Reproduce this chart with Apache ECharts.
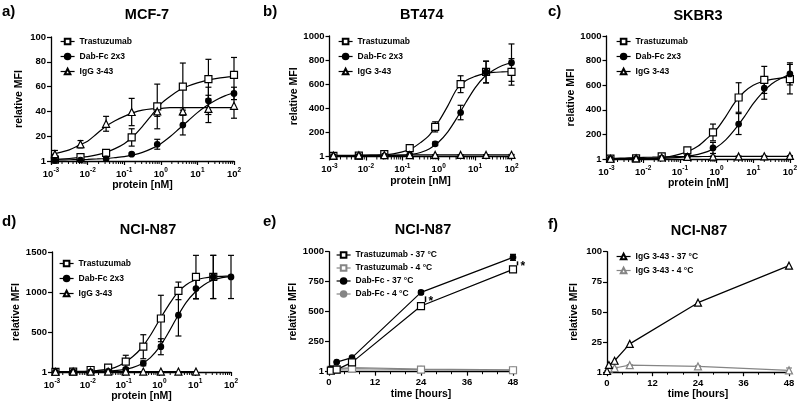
<!DOCTYPE html>
<html><head><meta charset="utf-8">
<script src="https://cdn.jsdelivr.net/npm/echarts@6/dist/echarts.min.js"></script>
<style>html,body{margin:0;padding:0;background:#fff}#c{width:800px;height:408px}</style>
</head><body><div id="c"></div><script>
// ---------- data ----------
// concentrations (nM) for panels a-c (5-fold dilutions) and d
const concABC = [0.00128, 0.0064, 0.032, 0.16, 0.8, 4, 20, 100];
const concD = [0.00125, 0.0039, 0.012, 0.037, 0.115, 0.355, 1.1, 3.4, 10.5, 32, 100];
const fitX = [0.001, 0.00178, 0.00316, 0.00562, 0.01, 0.0178, 0.0316, 0.0562, 0.1, 0.178, 0.316, 0.562,
              1, 1.78, 3.16, 5.62, 10, 17.8, 31.6, 56.2, 100];

// a) MCF-7
const aTras = [1.1, 3.2, 6.5, 19, 44, 60, 66, 69.5];
const aTrasErr = [0.5, 1, 1.5, 7, 18, 19, 16, 14];
const aDab = [0.5, 0.8, 1.8, 5.5, 13.5, 29, 48.5, 54.5];
const aDabErr = [0.3, 0.3, 0.5, 1, 4, 8, 11, 5];
const aIgg = [5.5, 13.5, 30, 39.5, 40, 40, 42, 44.5];
const aIggErr = [3, 3, 6, 11, 4, 3, 11, 10];
const aTrasFit = [1.2, 1.5, 2, 2.7, 3.5, 5, 7, 10, 14, 20, 28, 37, 46, 52, 57, 60.5, 63, 65, 66.5, 67.5, 68];
const aDabFit = [0.8, 0.9, 1, 1.1, 1.3, 1.6, 2, 2.7, 3.5, 5, 7, 10, 14, 19.5, 26, 32.5, 39, 44.5, 49, 52.5, 55];
const aIggFit = [5, 7, 9, 12.5, 16, 22, 28, 32.5, 36, 39, 41, 42, 42.5, 43, 43, 43, 43, 43, 43, 43, 43];

// b) BT474
const bTras = [5, 8, 19, 69, 246, 600, 702, 702];
const bTrasErr = [3, 3, 5, 12, 42, 70, 90, 110];
const bDab = [2, 3, 5, 14, 105, 365, 700, 779];
const bDabErr = [2, 2, 2, 4, 15, 60, 90, 155];
const bIgg = [8, 10, 12, 12, 13, 13, 13, 14];
const bIggErr = [3, 3, 3, 3, 3, 3, 3, 3];
const bTrasFit = [7, 7.5, 8, 9, 10, 12, 15, 22, 38, 65, 115, 180, 290, 420, 560, 630, 665, 688, 698, 702, 705];
const bDabFit = [4, 4.5, 5, 5.5, 6, 7, 8, 9, 11, 18, 33, 65, 120, 205, 320, 450, 570, 660, 715, 755, 780];
const bIggFit = [9, 9.5, 10, 10.5, 11, 11.5, 12, 12, 12, 12.5, 13, 13, 13, 13, 13, 13, 13, 13, 13, 13, 13];

// c) SKBR3
const cTras = [3, 5, 22, 70, 216, 500, 643, 649];
const cTrasErr = [3, 3, 8, 20, 68, 120, 110, 120];
const cDab = [1, 2, 8, 22, 90, 284, 576, 692];
const cDabErr = [2, 2, 3, 5, 45, 85, 90, 90];
const cIgg = [2, 5, 12, 18, 20, 21, 22, 25];
const cIggErr = [2, 2, 3, 3, 3, 3, 3, 3];
const cTrasFit = [3, 3.3, 4, 5, 6, 8, 12, 22, 40, 65, 105, 170, 240, 345, 460, 545, 600, 630, 648, 658, 665];
const cDabFit = [1, 1.1, 1.3, 2, 3, 4, 6, 9, 14, 24, 38, 60, 95, 155, 240, 340, 450, 540, 610, 655, 685];
const cIggFit = [5, 6, 8, 10, 13, 15, 17, 18, 19, 19.5, 20, 20.5, 21, 21, 21, 21, 21, 21, 21, 21, 21];

// d) NCI-N87
const dTras = [2, 4, 25, 54, 129, 316, 669, 1014, 1188, 1188, null];
const dTrasErr = [3, 3, 5, 15, 80, 150, 290, 110, 270, 270, null];
const dDab = [0, 1, 2, 8, 33, 108, 316, 710, 1043, 1188, 1188];
const dDabErr = [2, 2, 2, 5, 15, 30, 100, 260, 130, 270, 270];
const dIgg = [3, 4, 4, 5, 5, 5, 5, 5, 5, null, null];
const dTrasFit = [2, 3, 5, 8, 12, 19, 30, 55, 110, 190, 300, 460, 650, 830, 990, 1090, 1150, 1175, 1190, 1196, 1200];
const dDabFit = [1, 1.2, 1.5, 2, 3, 5, 10, 17, 30, 55, 100, 180, 310, 490, 690, 870, 1000, 1090, 1150, 1180, 1195];
const dIggFit = [4, 4, 4, 5, 5, 5, 5, 5, 5, null, null];

// e) NCI-N87 time course
const timeE = [0.5, 2, 6, 24, 48];
const eTras37 = [8, 17, 78, 547, 853];
const eTras37Err = [3, 3, 10, 15, 15];
const eTras4 = [15, 20, 25, 18, 12];
const eDab37 = [25, 80, 117, 661, 953];
const eDab37Err = [5, 5, 8, 15, 25];
const eDab4 = [20, 25, 35, 22, 15];
const sigTimesE = [24, 48];

// f) NCI-N87 IgG time course
const timeF = [0, 0.5, 2, 6, 24, 48];
const fIgg37 = [1, 6, 9.5, 23.5, 57.7, 88.4];
const fIgg4 = [1, 3, 3.5, 5.8, 4.8, 1.5];
const fIgg4Err = [0, 0.5, 0.5, 0.5, 0.5, 2];

// tick labels / texts
const yLabelZero = '1';
const panelLetters = ['a)', 'b)', 'c)', 'd)', 'e)', 'f)'];
const panelTitles = ['MCF-7', 'BT474', 'SKBR3', 'NCI-N87', 'NCI-N87', 'NCI-N87'];

// ---------- helpers ----------
const F = 'Liberation Sans';
const GREY = '#858585';
const log10Minor = [];
for (let k = -3; k <= 1; k++) for (let m = 2; m <= 9; m++) log10Minor.push(m * Math.pow(10, k));

const grids = [
  {left: 51, top: 37, width: 183, height: 124},
  {left: 329.5, top: 36, width: 182, height: 120.5},
  {left: 606.5, top: 36, width: 185, height: 123},
  {left: 52, top: 252, width: 179, height: 120},
  {left: 329, top: 251.7, width: 184, height: 120},
  {left: 607, top: 251.7, width: 182, height: 120.5}
];

function yAx(gi, max, interval, gap) {
  return {type: 'value', gridIndex: gi, min: 0, max: max, interval: interval,
    axisLine: {show: true, lineStyle: {color: '#000', width: 1.3}},
    axisTick: {show: true, length: 4, lineStyle: {color: '#000', width: 1.2}},
    splitLine: {show: false},
    axisLabel: {formatter: v => v === 0 ? yLabelZero : String(v), fontSize: 9.5, fontWeight: 'bold', fontFamily: F, color: '#000', margin: 5},
    name: 'relative MFI', nameLocation: 'middle', nameGap: gap,
    nameTextStyle: {fontSize: 10.5, fontWeight: 'bold', fontFamily: F, color: '#000'}};
}
function xLog(gi) {
  return {type: 'log', logBase: 10, gridIndex: gi, min: 0.001, max: 100,
    axisLine: {show: true, onZero: false, lineStyle: {color: '#000', width: 1.3}},
    axisTick: {show: true, length: 4, lineStyle: {color: '#000', width: 1.2}},
    splitLine: {show: false}, minorTick: {show: false},
    axisLabel: {margin: 6, formatter: v => '{b|10}{s|' + Math.round(Math.log10(v)) + '}',
      rich: {b: {fontSize: 9.5, fontWeight: 'bold', fontFamily: F, color: '#000', lineHeight: 12, verticalAlign: 'bottom'},
             s: {fontSize: 6.5, fontWeight: 'bold', fontFamily: F, color: '#000', lineHeight: 8, verticalAlign: 'top'}}},
    name: 'protein [nM]', nameLocation: 'middle', nameGap: 17,
    nameTextStyle: {fontSize: 10.5, fontWeight: 'bold', fontFamily: F, color: '#000'}};
}
function xTime(gi) {
  return {type: 'value', gridIndex: gi, min: 0, max: 48, interval: 12,
    axisLine: {show: true, onZero: false, lineStyle: {color: '#000', width: 1.3}},
    axisTick: {show: true, length: 4, lineStyle: {color: '#000', width: 1.2}},
    minorTick: {show: true, splitNumber: 3, length: 2.5, lineStyle: {color: '#000', width: 1}},
    splitLine: {show: false},
    axisLabel: {fontSize: 9.5, fontWeight: 'bold', fontFamily: F, color: '#000', margin: 6},
    name: 'time [hours]', nameLocation: 'middle', nameGap: 16,
    nameTextStyle: {fontSize: 10.5, fontWeight: 'bold', fontFamily: F, color: '#000'}};
}

const series = [];
function fit(gi, xs, vals, smooth) {
  series.push({type: 'line', name: 'fit' + gi + '_' + series.length, xAxisIndex: gi, yAxisIndex: gi,
    data: xs.map((x, i) => [x, vals[i]]).filter(d => d[1] != null),
    smooth: smooth, showSymbol: false, silent: true, z: 2,
    lineStyle: {color: '#000', width: 1.2}});
}
function marks(gi, name, xs, ys, sym, fill, col, connect, size) {
  series.push({type: 'line', name: name, xAxisIndex: gi, yAxisIndex: gi,
    data: xs.map((x, i) => [x, ys[i]]).filter(d => d[1] != null),
    symbol: sym, symbolSize: size, showAllSymbol: true, z: 6,
    itemStyle: {color: fill, borderColor: col, borderWidth: 1.2},
    lineStyle: {color: col, width: 1.2, opacity: connect ? 1 : 0}});
}
function errs(gi, xs, ys, es, col) {
  series.push({type: 'custom', name: 'err' + gi + '_' + series.length, xAxisIndex: gi, yAxisIndex: gi, silent: true, z: 4,
    encode: {x: 0, y: 1},
    data: xs.map((x, i) => [x, ys[i], es[i]]).filter(d => d[1] != null && d[2] != null),
    renderItem: (p, api) => {
      const x = api.value(0), y = api.value(1), e = api.value(2);
      const t = api.coord([x, y + e]), b = api.coord([x, Math.max(y - e, 0)]);
      const w = 3, st = {stroke: col, lineWidth: 1.2};
      return {type: 'group', children: [
        {type: 'line', shape: {x1: t[0], y1: t[1], x2: b[0], y2: b[1]}, style: st},
        {type: 'line', shape: {x1: t[0] - w, y1: t[1], x2: t[0] + w, y2: t[1]}, style: st},
        {type: 'line', shape: {x1: b[0] - w, y1: b[1], x2: b[0] + w, y2: b[1]}, style: st}]};
    }});
}
function minorLog(gi) {
  series.push({type: 'custom', name: 'minor' + gi, xAxisIndex: gi, yAxisIndex: gi, silent: true, z: 3,
    encode: {x: 0, y: 1}, clip: false,
    data: log10Minor.map(v => [v, 0]),
    renderItem: (p, api) => {
      const c = api.coord([api.value(0), api.value(1)]);
      return {type: 'line', shape: {x1: c[0], y1: c[1], x2: c[0], y2: c[1] + 3}, style: {stroke: '#000', lineWidth: 1}};
    }});
}

// panels a-c
const abc = [
  [aTras, aTrasErr, aDab, aDabErr, aIgg, aIggErr, aTrasFit, aDabFit, aIggFit],
  [bTras, bTrasErr, bDab, bDabErr, bIgg, bIggErr, bTrasFit, bDabFit, bIggFit],
  [cTras, cTrasErr, cDab, cDabErr, cIgg, cIggErr, cTrasFit, cDabFit, cIggFit]
];
abc.forEach((p, gi) => {
  minorLog(gi);
  fit(gi, fitX, p[6], 0.3); fit(gi, fitX, p[7], 0.3); fit(gi, fitX, p[8], 0.3);
  errs(gi, concABC, p[0], p[1], '#000'); errs(gi, concABC, p[2], p[3], '#000'); errs(gi, concABC, p[4], p[5], '#000');
  marks(gi, 'Trastuzumab', concABC, p[0], 'rect', '#fff', '#000', false, 7);
  marks(gi, 'Dab-Fc 2x3', concABC, p[2], 'circle', '#000', '#000', false, 5.5);
  marks(gi, 'IgG 3-43', concABC, p[4], 'triangle', '#fff', '#000', false, 7);
});
// panel d
minorLog(3);
fit(3, fitX, dTrasFit, 0.3); fit(3, fitX, dDabFit, 0.3); fit(3, concD, dIggFit, false);
errs(3, concD, dTras, dTrasErr, '#000'); errs(3, concD, dDab, dDabErr, '#000');
marks(3, 'Trastuzumab', concD, dTras, 'rect', '#fff', '#000', false, 7);
marks(3, 'Dab-Fc 2x3', concD, dDab, 'circle', '#000', '#000', false, 5.5);
marks(3, 'IgG 3-43', concD, dIgg, 'triangle', '#fff', '#000', false, 7);
// panel e
marks(4, 'Dab-Fc - 4 °C', timeE, eDab4, 'circle', GREY, GREY, true, 5.5);
marks(4, 'Trastuzumab - 4 °C', timeE, eTras4, 'rect', '#fff', GREY, true, 7);
errs(4, timeE, eTras37, eTras37Err, '#000'); errs(4, timeE, eDab37, eDab37Err, '#000');
marks(4, 'Dab-Fc - 37 °C', timeE, eDab37, 'circle', '#000', '#000', true, 5.5);
marks(4, 'Trastuzumab - 37 °C', timeE, eTras37, 'rect', '#fff', '#000', true, 7);
series.push({type: 'custom', name: 'sigE', xAxisIndex: 4, yAxisIndex: 4, silent: true, z: 7, clip: false,
  encode: {x: 0, y: 1},
  data: sigTimesE.map(t => { const i = timeE.indexOf(t); return [t, eTras37[i], eDab37[i]]; }),
  renderItem: (p, api) => {
    const lo = api.coord([api.value(0), api.value(1)]), hi = api.coord([api.value(0), api.value(2)]);
    const x = lo[0] + 4.5, y1 = hi[1] + 4, y2 = lo[1] - 4;
    return {type: 'group', children: [
      {type: 'line', shape: {x1: x, y1: y1, x2: x, y2: y2}, style: {stroke: '#000', lineWidth: 1.5}},
      {type: 'text', x: x + 3, y: y1 - 1, style: {text: '*', font: 'bold 12px ' + F, fill: '#000', align: 'left', verticalAlign: 'top'}}]};
  }});
// panel f
errs(5, timeF, fIgg4, fIgg4Err, GREY);
marks(5, 'IgG 3-43 - 4 °C', timeF, fIgg4, 'triangle', '#fff', GREY, true, 7);
marks(5, 'IgG 3-43 - 37 °C', timeF, fIgg37, 'triangle', '#fff', '#000', true, 7);

function legend(left, top, names, gap) {
  return {left: left, top: top, orient: 'vertical', data: names, itemGap: gap, itemWidth: 14, itemHeight: 7,
    selectedMode: false, padding: 0,
    lineStyle: {opacity: 1, width: 1.2},
    textStyle: {fontSize: 8.5, fontWeight: 'bold', fontFamily: F, color: '#000', lineHeight: 10}};
}
const abcNames = ['Trastuzumab', 'Dab-Fc 2x3', 'IgG 3-43'];

const titlePos = [[147, 15], [421.7, 15], [698, 16], [148, 230], [423, 230], [699, 231]];
const letterPos = [[2, 11.5], [263, 11.5], [548, 11.5], [2, 222], [263, 222], [548, 225]];
const graphic = [];
panelTitles.forEach((t, i) => graphic.push({type: 'text', x: titlePos[i][0], y: titlePos[i][1],
  style: {text: t, font: 'bold 14.5px ' + F, fill: '#000', align: 'center', verticalAlign: 'middle'}}));
panelLetters.forEach((t, i) => graphic.push({type: 'text', x: letterPos[i][0], y: letterPos[i][1],
  style: {text: t, font: 'bold 15px ' + F, fill: '#000', align: 'left', verticalAlign: 'middle'}}));

const option = {
  animation: false,
  backgroundColor: '#fff',
  grid: grids,
  xAxis: [xLog(0), xLog(1), xLog(2), xLog(3), xTime(4), xTime(5)],
  yAxis: [yAx(0, 100, 20, 26), yAx(1, 1000, 200, 28), yAx(2, 1000, 200, 30), yAx(3, 1500, 500, 28), yAx(4, 1000, 250, 26), yAx(5, 100, 25, 27)],
  legend: [
    legend(60, 36.5, abcNames, 5), legend(338, 36.5, abcNames, 5), legend(616, 36.5, abcNames, 5),
    legend(59, 258.5, abcNames, 5),
    legend(336, 250, ['Trastuzumab - 37 °C', 'Trastuzumab - 4 °C', 'Dab-Fc - 37 °C', 'Dab-Fc - 4 °C'], 3),
    legend(616, 251.5, ['IgG 3-43 - 37 °C', 'IgG 3-43 - 4 °C'], 4)
  ],
  graphic: graphic,
  series: series
};
const chart = echarts.init(document.getElementById('c'), null, {renderer: 'canvas'});
chart.setOption(option);
</script></body></html>
